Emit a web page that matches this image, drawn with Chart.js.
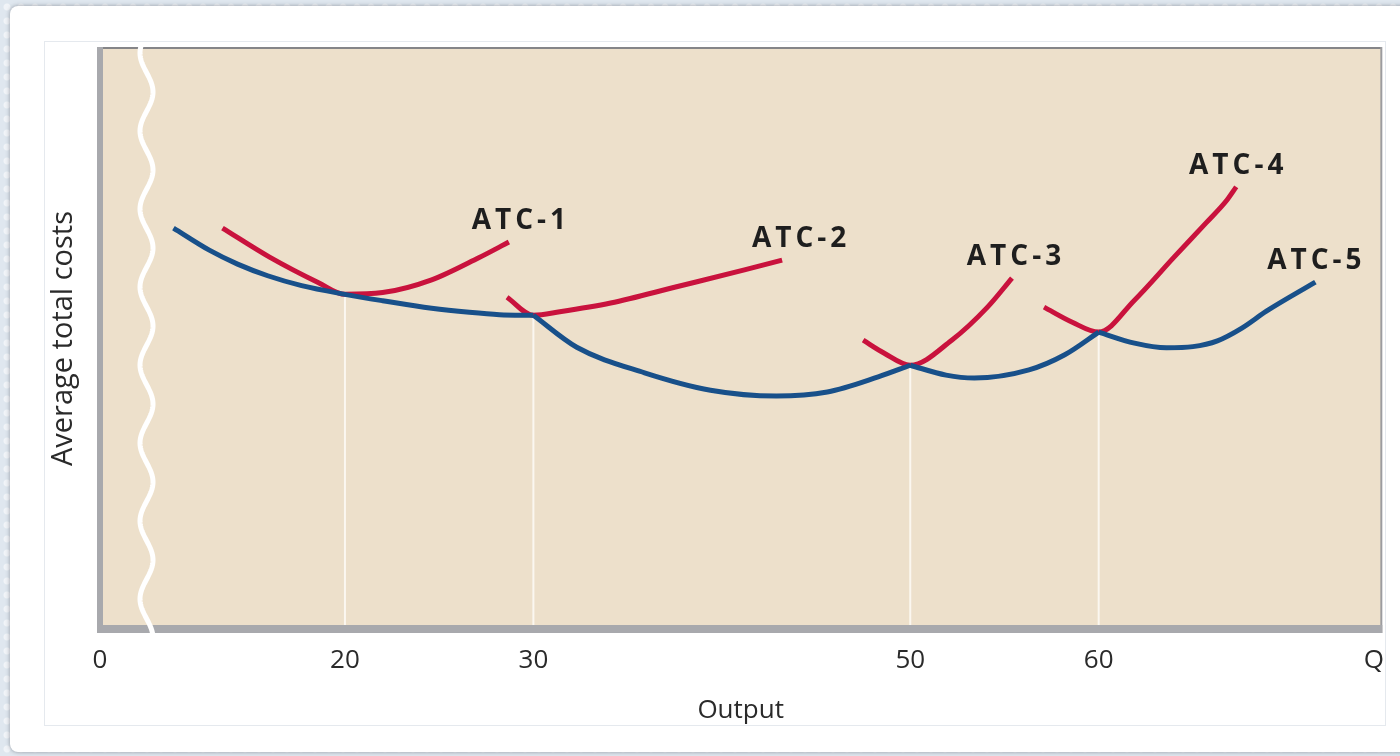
<!DOCTYPE html>
<html>

<head>
    <meta charset="utf-8">
    <title>Average total costs and output</title>
    <script src="https://cdn.jsdelivr.net/npm/chart.js"></script>
    <style>
        html, body {
            margin: 0;
            padding: 0;
            width: 1400px;
            height: 756px;
            overflow: hidden;
        }

        body {
            position: relative;
            background-color: #dfe7ef;
            background-image: radial-gradient(circle at 50% 50%, rgba(255, 255, 255, 0.55) 0 3px, transparent 4px);
            background-size: 14px 14px;
        }

        /* white card and the inner panel behind the canvas */
        #card {
            position: absolute;
            left: 10px;
            top: 6px;
            width: 1410px;
            height: 746px;
            background: #fff;
            border-radius: 8px;
            box-shadow: 0 0 4px rgba(90, 95, 105, 0.6);
        }

        #panel {
            position: absolute;
            left: 44px;
            top: 41px;
            width: 1340px;
            height: 683px;
            background: #fff;
            border: 1px solid #e5e9ee;
        }

        #graficoCustos {
            position: absolute;
            left: 0;
            top: 0;
        }
    </style>
</head>

<body>
    <div id="card"></div>
    <div id="panel"></div>
    <canvas id="graficoCustos" width="1400" height="756"></canvas>

    <script>
        // x axis: output (the axis is broken, so "0" sits at the left edge)
        var tickValues = [7, 20, 30, 50, 60, 74.6];
        var tickLabels = ["0", "20", "30", "50", "60", "Q"];

        // points where the plant size changes
        var trocaX = [20, 30, 50, 60];
        var trocaY = [57.6, 54.0, 45.4, 51.1];

        // long-run curve (blue), one piece between each switch point
        var longo1 = [[10.9, 69.0], [12.8, 65.2], [14.3, 62.8], [15.9, 60.8], [17.7, 59.1], [20, 57.6], [22.0, 56.5], [24.6, 55.2], [26.6, 54.5], [28.2, 54.1], [30, 54.0]];
        var longo2 = [[30, 54.0], [32.3, 48.5], [35.9, 44.1], [39.4, 41.1], [42.9, 40.1], [45.6, 40.8], [48.3, 43.4], [50, 45.4]];
        var longo3 = [[50, 45.4], [51.9, 43.7], [53.4, 43.2], [56.3, 44.6], [58.2, 47.2], [60, 51.1]];
        var longo4 = [[60, 51.1], [61.9, 49.2], [63.6, 48.4], [65.0, 48.6], [66.3, 49.6], [67.6, 51.8], [68.9, 54.7], [71.5, 59.7]];

        // short-run curves (red)
        var atc1 = [[13.5, 69.0], [16.0, 64.0], [18.6, 59.6], [20, 57.6], [22.0, 57.9], [24.6, 60.1], [27.1, 63.9], [28.7, 66.6]];
        var atc2 = [[28.6, 57.1], [30, 54.0], [31.4, 54.6], [34.1, 56.1], [37.6, 58.9], [41.2, 61.8], [43.2, 63.5]];
        var atc3 = [[47.5, 49.7], [48.6, 47.5], [50, 45.4], [52.2, 49.7], [54.1, 55.4], [55.4, 60.4]];
        var atc4 = [[57.1, 55.4], [58.6, 52.8], [60, 51.1], [61.9, 56.6], [64.0, 64.0], [65.7, 69.9], [66.8, 73.8], [67.3, 76.1]];

        var nomesCurvas = ["ATC-1", "ATC-2", "ATC-3", "ATC-4", "ATC-5"];

        var VERMELHO = "#c9123d";
        var AZUL = "#18508a";
        var BEGE = "#ede0cb";
        var CINZA = "#a8a9ad";

        Chart.defaults.font.family = "'Open Sans', sans-serif";
        Chart.defaults.color = "#2a2a2a";

        function serie(pontos, cor, ordem) {
            return {
                data: pontos.map(function (p) { return { x: p[0], y: p[1] }; }),
                borderColor: cor,
                borderWidth: 5,
                borderCapStyle: "butt",
                pointRadius: 0,
                cubicInterpolationMode: "monotone",
                fill: false,
                order: ordem
            };
        }

        var datasets = [];

        // thin white drop lines under each switch point
        trocaX.forEach(function (x, i) {
            datasets.push({
                data: [{ x: x, y: 0 }, { x: x, y: trocaY[i] }],
                borderColor: "#fbf7f0",
                borderWidth: 2,
                pointRadius: 0,
                tension: 0,
                order: 5
            });
        });

        [atc1, atc2, atc3, atc4].forEach(function (c) { datasets.push(serie(c, VERMELHO, 2)); });
        [longo1, longo2, longo3, longo4].forEach(function (c) { datasets.push(serie(c, AZUL, 1)); });

        // beige plot area plus the grey frame around it
        var moldura = {
            id: "moldura",
            beforeDraw: function (chart) {
                var a = chart.chartArea, ctx = chart.ctx;
                ctx.save();
                ctx.fillStyle = BEGE;
                ctx.fillRect(a.left, a.top, a.right - a.left, a.bottom - a.top);
                ctx.restore();
            },
            afterDatasetsDraw: function (chart) {
                var a = chart.chartArea, ctx = chart.ctx;
                ctx.save();
                ctx.fillStyle = "#858588";
                ctx.fillRect(a.left - 3, a.top - 1, a.right - a.left + 3, 2);
                ctx.fillStyle = "#9c9ca0";
                ctx.fillRect(a.right - 1, a.top - 1, 2, a.bottom - a.top + 5);
                ctx.fillStyle = CINZA;
                ctx.fillRect(a.left - 3, a.top - 1, 6, a.bottom - a.top + 5);
                ctx.fillRect(a.left - 3, a.bottom - 4, a.right - a.left + 4, 8);

                // white wavy break on the output axis
                ctx.strokeStyle = "#ffffff";
                ctx.lineWidth = 5;
                ctx.beginPath();
                var x0 = a.left + 46.5;
                for (var y = a.top - 2; y <= a.bottom + 5; y++) {
                    var x = x0 + 6.5 * Math.sin(2 * Math.PI * (y - 72.5) / 78);
                    if (y === a.top - 2) ctx.moveTo(x, y); else ctx.lineTo(x, y);
                }
                ctx.stroke();
                ctx.restore();
            }
        };

        // curve names above the right end of each curve
        var rotulos = {
            id: "rotulos",
            afterDatasetsDraw: function (chart) {
                var ctx = chart.ctx;
                var fins = [atc1, atc2, atc3, atc4, longo4];
                var desloc = [10, 17, 2, 0, -1];
                var sx = chart.scales.x, sy = chart.scales.y;
                ctx.save();
                ctx.font = "bold 28px 'Open Sans', sans-serif";
                ctx.fillStyle = "#1e1e1e";
                ctx.textAlign = "center";
                ctx.textBaseline = "middle";
                if ("letterSpacing" in ctx) ctx.letterSpacing = "4px";
                fins.forEach(function (c, i) {
                    var p = c[c.length - 1];
                    ctx.fillText(nomesCurvas[i], sx.getPixelForValue(p[0]) + desloc[i] + 2, sy.getPixelForValue(p[1]) - 21);
                });
                ctx.restore();
            }
        };

        new Chart(document.getElementById("graficoCustos").getContext("2d"), {
            type: "line",
            data: { datasets: datasets },
            options: {
                responsive: false,
                animation: false,
                events: [],
                layout: { padding: { top: 48, right: 17, left: 0, bottom: 0 } },
                plugins: {
                    legend: { display: false },
                    tooltip: { enabled: false }
                },
                scales: {
                    x: {
                        type: "linear",
                        min: 7,
                        max: 75,
                        grid: { display: false, drawTicks: false },
                        border: { display: false },
                        afterBuildTicks: function (scale) {
                            scale.ticks = tickValues.map(function (v) { return { value: v }; });
                        },
                        afterFit: function (scale) { scale.height = 127; },
                        ticks: {
                            autoSkip: false,
                            maxRotation: 0,
                            padding: 16,
                            font: { size: 26 },
                            callback: function (value, index) { return tickLabels[index]; }
                        },
                        title: {
                            display: true,
                            text: "Output",
                            font: { size: 26 },
                            padding: { top: 0, bottom: 30 }
                        }
                    },
                    y: {
                        min: 0,
                        max: 100,
                        grid: { display: false, drawTicks: false },
                        border: { display: false },
                        ticks: { display: false },
                        afterFit: function (scale) { scale.width = 100; },
                        title: {
                            display: true,
                            text: "Average total costs",
                            font: { size: 29 },
                            padding: { top: 46, bottom: 0 }
                        }
                    }
                }
            },
            plugins: [moldura, rotulos]
        });
    </script>
</body>

</html>
